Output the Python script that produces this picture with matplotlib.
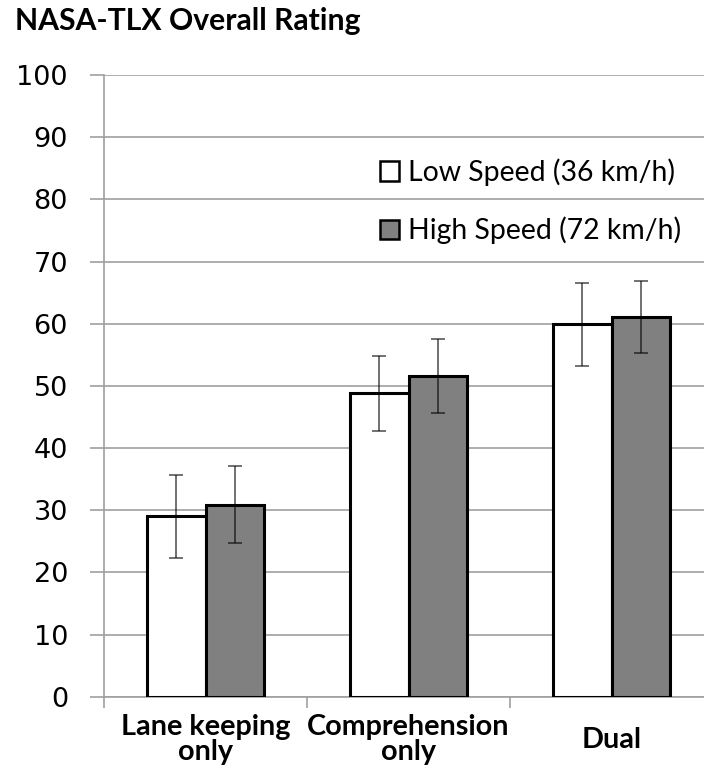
import matplotlib
matplotlib.use('Agg')
import matplotlib.pyplot as plt
import numpy as np

categories = ['Lane keeping\nonly', 'Comprehension\nonly', 'Dual']
series_names = ['Low Speed (36 km/h)', 'High Speed (72 km/h)']
low_speed = [29.0, 48.8, 59.9]
high_speed = [30.9, 51.6, 61.1]
low_err = [6.7, 6.0, 6.7]
high_err = [6.2, 6.0, 5.8]
y_ticks = list(range(0, 101, 10))

GRID = '#a0a0a0'
BAR_GRAY = '#808080'
TEXT_FONT = ['Lato', 'DejaVu Sans']

fig = plt.figure(figsize=(7.04, 7.68), dpi=100)
ax = fig.add_axes([104 / 704, 71.3 / 768, 609 / 704, 621.7 / 768])

x = np.arange(len(categories))
width = 0.29

bars_low = ax.bar(x - width / 2, low_speed, width, color='white', edgecolor='black',
                  linewidth=2.2, label=series_names[0], zorder=3)
bars_high = ax.bar(x + width / 2, high_speed, width, color=BAR_GRAY, edgecolor='black',
                   linewidth=2.2, label=series_names[1], zorder=3)

err_style = dict(fmt='none', ecolor='black', alpha=0.6, elinewidth=1.3,
                 capsize=4.7, capthick=1.3, zorder=4)
ax.errorbar(x - width / 2, low_speed, yerr=low_err, **err_style)
ax.errorbar(x + width / 2, high_speed, yerr=high_err, **err_style)

ax.set_xlim(-0.5, len(categories) - 0.5)
ax.set_ylim(0, 100)

# y axis: gridlines plus outward ticks
ax.set_yticks(y_ticks)
ax.set_yticklabels([str(v) for v in y_ticks], fontsize=19.5, family='DejaVu Sans')
ax.yaxis.grid(True, color=GRID, linewidth=1.2, zorder=0)
ax.tick_params(axis='y', length=10, width=1.2, color=GRID, pad=16)

# x axis: category boundary ticks, labels centred under each group
ax.set_xticks(x)
ax.set_xticklabels(categories, fontsize=20.7, fontweight='bold', family=TEXT_FONT,
                   linespacing=0.95)
ax.tick_params(axis='x', which='major', length=0, pad=31)
for lbl in ax.get_xticklabels():
    lbl.set_va('center')
ax.set_xticks(np.arange(-0.5, len(categories), 1.0), minor=True)
ax.tick_params(axis='x', which='minor', length=8, width=1.2, color=GRID)

for side in ['top', 'right']:
    ax.spines[side].set_visible(False)
for side in ['left', 'bottom']:
    ax.spines[side].set_color(GRID)
    ax.spines[side].set_linewidth(1.2)

leg = ax.legend(handles=[bars_low, bars_high], loc='upper right',
                bbox_to_anchor=(681 / 704, 1 - 158 / 768), bbox_transform=fig.transFigure,
                frameon=False, borderpad=0, borderaxespad=0,
                handlelength=0.7, handleheight=0.7, handletextpad=0.3,
                labelspacing=1.1, prop={'family': TEXT_FONT, 'size': 20.4})
for h in leg.legend_handles:
    h.set_linewidth(1.8)

fig.text(15 / 704, 1 - 30 / 768, 'NASA-TLX Overall Rating', fontsize=21.7,
         fontweight='bold', family=TEXT_FONT, va='baseline', ha='left')

fig.savefig('out.png', dpi=100)
